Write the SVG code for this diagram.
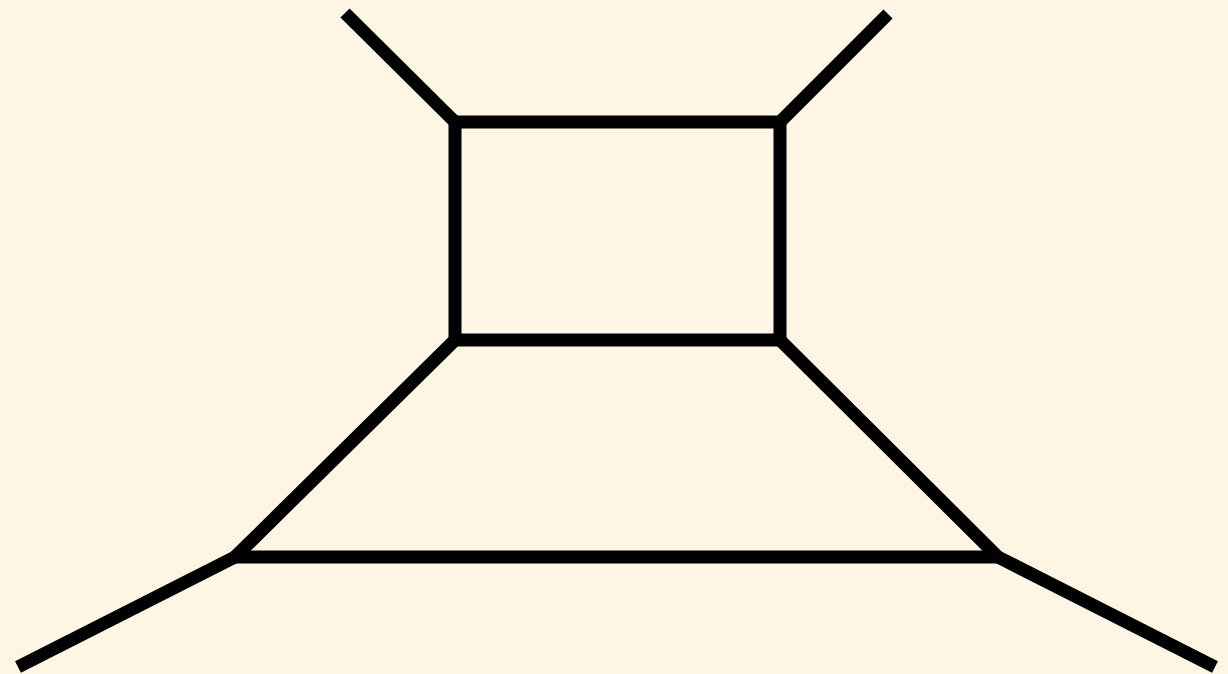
<svg xmlns="http://www.w3.org/2000/svg" width="1228" height="674" viewBox="0 0 1228 674">
<style>
.l{stroke:#000;stroke-width:13;fill:none;stroke-linecap:butt;stroke-linejoin:miter}
</style>
<rect width="1228" height="674" fill="#FFF5E4"/>
<g id="connectors">
<line class="l" x1="345" y1="13" x2="455" y2="122"/>
<line class="l" x1="888" y1="14" x2="780" y2="122"/>
<polygon class="l" points="455,122 780,122 780,340 455,340"/>
<line class="l" x1="455" y1="340" x2="235" y2="557"/>
<line class="l" x1="780" y1="340" x2="998" y2="557"/>
<line class="l" x1="235" y1="557" x2="998" y2="557"/>
<line class="l" x1="235" y1="557" x2="18" y2="667"/>
<line class="l" x1="998" y1="557" x2="1215" y2="667"/>
</g>
</svg>
